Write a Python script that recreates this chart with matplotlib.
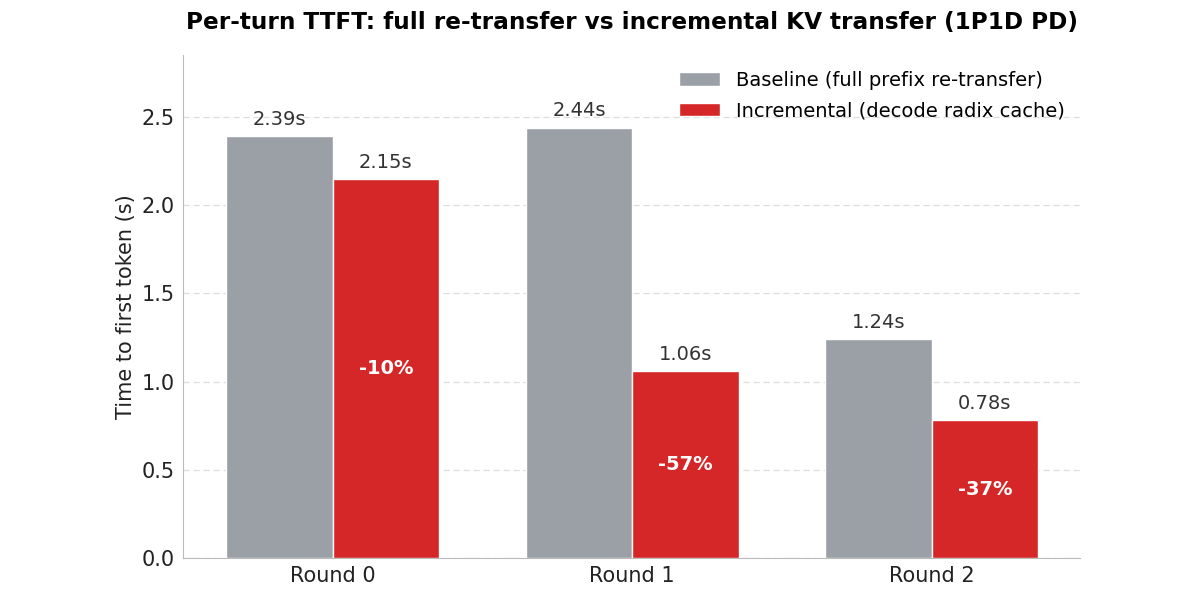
import matplotlib
matplotlib.use("Agg")
import matplotlib.pyplot as plt
import numpy as np

plt.rcParams["font.family"] = ["DejaVu Sans"]

rounds = ["Round 0", "Round 1", "Round 2"]
baseline = [2.39, 2.44, 1.24]
incremental = [2.15, 1.06, 0.78]
reductions = ["-10%", "-57%", "-37%"]

gray = "#9aa0a6"
red = "#d62728"

fig, ax = plt.subplots(figsize=(12, 6), dpi=100)
fig.subplots_adjust(left=0.1525, right=0.9, top=0.908, bottom=0.07)

x = np.arange(len(rounds))
w = 0.355
b1 = ax.bar(x - w / 2, baseline, w, color=gray, edgecolor="white", linewidth=1,
            label="Baseline (full prefix re-transfer)", zorder=3)
b2 = ax.bar(x + w / 2, incremental, w, color=red, edgecolor="white", linewidth=1,
            label="Incremental (decode radix cache)", zorder=3)

for rect, v in zip(b1, baseline):
    ax.text(rect.get_x() + rect.get_width() / 2, v + 0.04, f"{v:.2f}s",
            ha="center", va="bottom", fontsize=14, color="#333333")
for rect, v in zip(b2, incremental):
    ax.text(rect.get_x() + rect.get_width() / 2, v + 0.04, f"{v:.2f}s",
            ha="center", va="bottom", fontsize=14, color="#333333")
for rect, v, r in zip(b2, incremental, reductions):
    ax.text(rect.get_x() + rect.get_width() / 2, v / 2, r,
            ha="center", va="center", fontsize=14, color="white", fontweight="bold")

ax.set_xlim(-0.5, 2.495)
ax.set_ylim(0, 2.85)
ax.set_xticks(x)
ax.set_xticklabels(rounds)
ax.set_yticks([0, 0.5, 1.0, 1.5, 2.0, 2.5])
ax.tick_params(axis="both", length=0, labelsize=15, pad=6, colors="#222222")
ax.set_ylabel("Time to first token (s)", fontsize=15, color="#222222")
ax.set_title("Per-turn TTFT: full re-transfer vs incremental KV transfer (1P1D PD)",
             fontsize=16.7, fontweight="bold", pad=19)
ax.grid(axis="y", linestyle=(0, (5, 3)), color="#dddddd", linewidth=0.9, zorder=0)
for s in ["top", "right"]:
    ax.spines[s].set_visible(False)
for s in ["left", "bottom"]:
    ax.spines[s].set_color("#bbbbbb")
leg = ax.legend(loc="upper right", frameon=False, fontsize=14, handlelength=2.1,
                borderaxespad=0.4, labelspacing=0.6)
fig.savefig("out.png", dpi=100, facecolor="white")
